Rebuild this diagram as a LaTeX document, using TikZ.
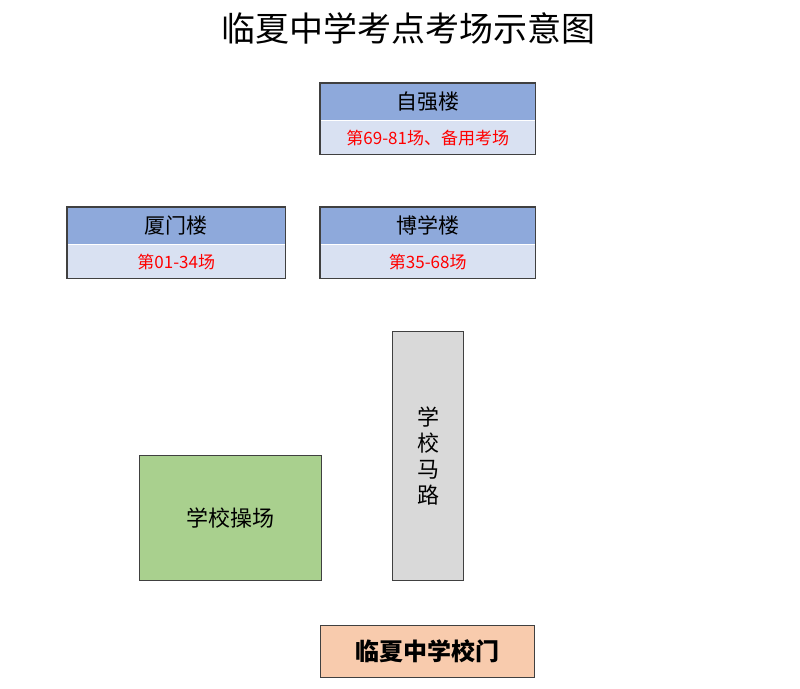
\documentclass[tikz,border=0pt]{standalone}
\usepackage{fontspec}
\setmainfont{Noto Sans CJK SC}
\usetikzlibrary{positioning}
\definecolor{hdblue}{HTML}{8EA9DB}
\definecolor{ltblue}{HTML}{D9E1F2}
\definecolor{fieldgreen}{HTML}{A9D08E}
\definecolor{roadgray}{HTML}{D9D9D9}
\definecolor{gatepeach}{HTML}{F8CBAD}
\definecolor{edge}{HTML}{404040}

\begin{document}
\begin{tikzpicture}[x=1pt,y=-1pt,
    blk/.style={draw=edge, line width=1.2pt, rectangle, inner sep=0pt},
    head/.style={rectangle, inner sep=0pt, fill=hdblue, minimum width=215pt, minimum height=37pt, font=\fontsize{21}{24}\selectfont},
    rooms/.style={rectangle, inner sep=0pt, fill=ltblue, minimum width=215pt, minimum height=34pt, text=red, font=\fontsize{17}{20}\selectfont},
    frame/.style={draw=edge, line width=1.2pt}]
    \useasboundingbox (0,0) rectangle (800,688);
    \node (title) at (408,28) {\fontsize{34}{38}\selectfont 临夏中学考点考场示意图};
    % buildings
    \node[head,anchor=north west] (zq) at (320,83) {自强楼};
    \node[rooms,below=0pt of zq] (zqr) {第69-81场、备用考场};
    \draw[frame] (zq.north west) rectangle (zqr.south east);
    \node[head,anchor=north west] (bx) at (320,207) {博学楼};
    \node[rooms,below=0pt of bx] (bxr) {第35-68场};
    \draw[frame] (bx.north west) rectangle (bxr.south east);
    \node[head,minimum width=218pt,anchor=north west] (xm) at (67,207) {厦门楼};
    \node[rooms,minimum width=218pt,below=0pt of xm] (xmr) {第01-34场};
    \draw[frame] (xm.north west) rectangle (xmr.south east);
    % road, field, gate
    \node[blk,fill=roadgray,minimum width=71pt,minimum height=249pt,anchor=north west,
      align=center,font=\fontsize{22}{26}\selectfont] (road) at (392,331) {学\\校\\马\\路};
    \node[blk,fill=fieldgreen,minimum width=182pt,minimum height=125pt,anchor=north west,
      font=\fontsize{22}{26}\selectfont] (field) at (139,455) {学校操场};
    \node[blk,fill=gatepeach,minimum width=214pt,minimum height=52pt,anchor=north west,
      font=\fontsize{24}{28}\selectfont\bfseries] (gate) at (320,625) {临夏中学校门};
\end{tikzpicture}
\end{document}
